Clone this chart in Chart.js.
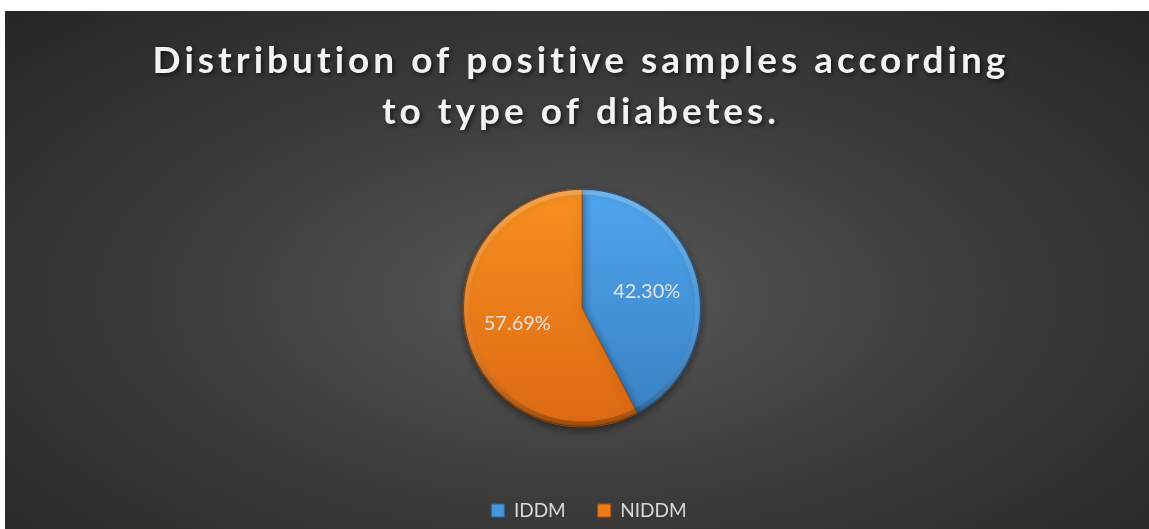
<!DOCTYPE html>
<html>
<head>
<meta charset="utf-8">
<script src="https://cdn.jsdelivr.net/npm/chart.js@4.4.0/dist/chart.umd.min.js"></script>
<style>
  html, body { margin: 0; padding: 0; background: #fff; }
  #wrap {
    position: absolute; left: 5px; top: 11px; width: 1144px; height: 518px;
    background: radial-gradient(ellipse farthest-corner at 50% 55%, #5a5a5a 0%, #3e3e3e 45%, #262626 100%);
  }
  canvas { display: block; }
</style>
</head>
<body>
<div id="wrap"><canvas id="myChart" width="1144" height="518"></canvas></div>
<script>
// data
const categories = ['IDDM', 'NIDDM'];
const percentValues = [42.30, 57.69];
const titleLines = ['Distribution of positive samples according', 'to type of diabetes.'];

// slice colours (top / bottom of the shading, flat for legend, edge)
const topColors = ['#4fa6ef', '#f8901f'];
const bottomColors = ['#387fc0', '#dc6912'];
const flatColors = ['#4596dc', '#ee7b19'];
const edgeColors = ['#2c659a', '#a9520e'];

const PIE_RADIUS = 119;

function sliceFill(c) {
    const chart = c.chart;
    const area = chart.chartArea;
    if (!area) return flatColors[c.dataIndex];
    const cy = (area.top + area.bottom) / 2;
    const g = chart.ctx.createLinearGradient(0, cy - PIE_RADIUS, 0, cy + PIE_RADIUS);
    g.addColorStop(0, topColors[c.dataIndex]);
    g.addColorStop(1, bottomColors[c.dataIndex]);
    return g;
}

// drop shadow under the pie
const pieShadow = {
    id: 'pieShadow',
    beforeDatasetsDraw(chart) {
        const ctx = chart.ctx;
        ctx.save();
        ctx.shadowColor = 'rgba(0,0,0,0.45)';
        ctx.shadowBlur = 8;
        ctx.shadowOffsetY = 3;
    },
    afterDatasetsDraw(chart) {
        chart.ctx.restore();
    }
};

// bevelled rim + percentage labels
const sliceLabels = {
    id: 'sliceLabels',
    afterDatasetsDraw(chart) {
        const ctx = chart.ctx;
        const meta = chart.getDatasetMeta(0);
        const first = meta.data[0];
        if (!first) return;
        const { x, y, outerRadius } = first.getProps(['x', 'y', 'outerRadius'], true);

        ctx.save();
        const rim = ctx.createLinearGradient(0, y - outerRadius, 0, y + outerRadius);
        rim.addColorStop(0, 'rgba(255,255,255,0.22)');
        rim.addColorStop(0.5, 'rgba(255,255,255,0.08)');
        rim.addColorStop(1, 'rgba(0,0,0,0.28)');
        ctx.strokeStyle = rim;
        ctx.lineWidth = 5;
        ctx.beginPath();
        ctx.arc(x, y, outerRadius - 3, 0, Math.PI * 2);
        ctx.stroke();
        ctx.strokeStyle = 'rgba(0,0,0,0.35)';
        ctx.lineWidth = 1;
        ctx.beginPath();
        ctx.arc(x, y, outerRadius - 0.5, 0, Math.PI * 2);
        ctx.stroke();

        ctx.font = '20px Lato';
        ctx.fillStyle = '#e3e3e3';
        ctx.textAlign = 'center';
        ctx.textBaseline = 'middle';
        meta.data.forEach((arc, i) => {
            const p = arc.getProps(['x', 'y', 'startAngle', 'endAngle', 'outerRadius'], true);
            const mid = (p.startAngle + p.endAngle) / 2;
            const r = p.outerRadius * 0.56;
            ctx.fillText(percentValues[i].toFixed(2) + '%', p.x + Math.cos(mid) * r, p.y + Math.sin(mid) * r);
        });
        ctx.restore();
    }
};

// title with letter spacing (built-in title can't do it)
const spacedTitle = {
    id: 'spacedTitle',
    afterDraw(chart) {
        const ctx = chart.ctx;
        ctx.save();
        ctx.font = 'bold 37px Lato';
        ctx.letterSpacing = '4px';
        ctx.fillStyle = '#f2f2f2';
        ctx.textAlign = 'center';
        ctx.textBaseline = 'alphabetic';
        ctx.shadowColor = 'rgba(0,0,0,0.6)';
        ctx.shadowBlur = 4;
        ctx.shadowOffsetX = 2;
        ctx.shadowOffsetY = 2;
        const cx = chart.width / 2 + 4;
        titleLines.forEach((line, i) => ctx.fillText(line, cx, 62 + i * 51));
        ctx.restore();
    }
};

// legend sits a little right of the chart centre
const legendNudge = {
    id: 'legendNudge',
    afterLayout(chart) {
        chart.legend.left += 7;
        chart.legend.right += 7;
    }
};

const ctx = document.getElementById('myChart').getContext('2d');
const myChart = new Chart(ctx, {
    type: 'pie',
    data: {
        labels: categories,
        datasets: [{
            data: percentValues,
            backgroundColor: sliceFill,
            borderColor: edgeColors,
            borderWidth: 1
        }]
    },
    options: {
        responsive: false,
        animation: false,
        radius: PIE_RADIUS,
        layout: { padding: { top: 136, left: 10, right: 0, bottom: 0 } },
        plugins: {
            tooltip: { enabled: false },
            legend: {
                position: 'bottom',
                maxHeight: 60,
                labels: {
                    boxWidth: 13,
                    boxHeight: 13,
                    padding: 32,
                    color: '#d9d9d9',
                    font: { family: 'Lato', size: 19 },
                    generateLabels(chart) {
                        const items = Chart.overrides.pie.plugins.legend.labels.generateLabels(chart);
                        items.forEach((it, i) => {
                            it.fillStyle = flatColors[i];
                            it.strokeStyle = edgeColors[i];
                            it.lineWidth = 1;
                        });
                        return items;
                    }
                }
            }
        }
    },
    plugins: [pieShadow, sliceLabels, spacedTitle, legendNudge]
});
</script>
</body>
</html>
